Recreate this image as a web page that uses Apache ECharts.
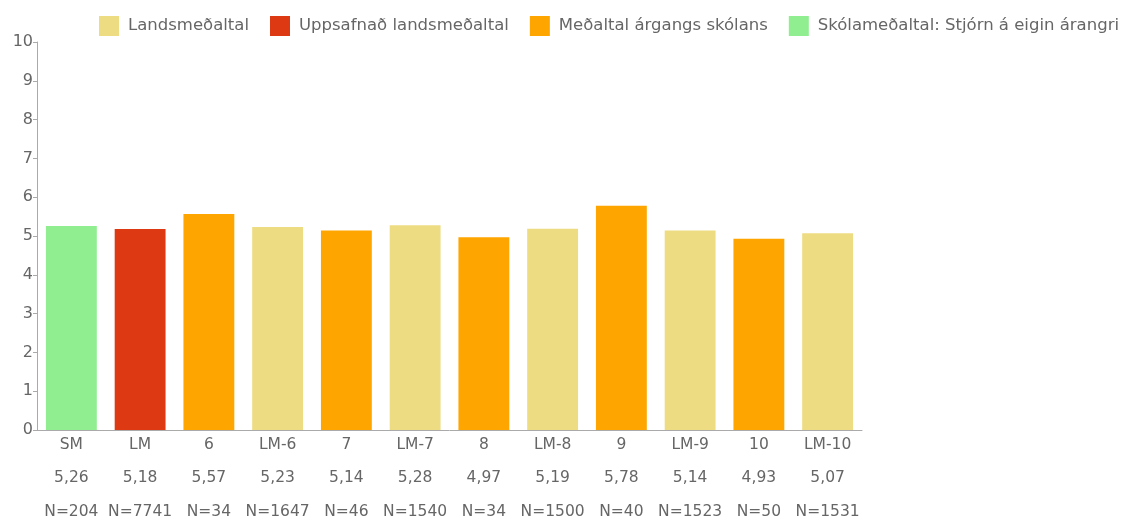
<!DOCTYPE html>
<html>
<head>
<meta charset="utf-8">
<script src="https://cdn.jsdelivr.net/npm/echarts@6/dist/echarts.min.js"></script>
<style>html,body{margin:0;padding:0;background:#fff}#c{width:1126px;height:523px}</style>
</head>
<body>
<div id="c"></div>
<script>
const categories = ['SM','LM','6','LM-6','7','LM-7','8','LM-8','9','LM-9','10','LM-10'];
const values = [5.26,5.18,5.57,5.23,5.14,5.28,4.97,5.19,5.78,5.14,4.93,5.07];
const counts = [204,7741,34,1647,46,1540,34,1500,40,1523,50,1531];
// group index per category: 0 Landsmeðaltal, 1 Uppsafnað, 2 Meðaltal árgangs, 3 Skólameðaltal
const groups = [3,1,2,0,2,0,2,0,2,0,2,0];
const seriesNames = ['Landsmeðaltal','Uppsafnað landsmeðaltal','Meðaltal árgangs skólans','Skólameðaltal: Stjórn á eigin árangri'];
const seriesColors = ['#EEDC82','#DD3A13','#FFA500','#90EE90'];
const yTicks = [0,1,2,3,4,5,6,7,8,9,10];

const fmt = v => v.toFixed(2).replace('.', ',');
const chart = echarts.init(document.getElementById('c'));
const series = seriesNames.map((name, gi) => ({
  name,
  type: 'bar',
  stack: 'all',
  barWidth: '74%',
  itemStyle: {color: seriesColors[gi]},
  data: values.map((v, i) => groups[i] === gi ? v : '-')
}));
chart.setOption({
  animation: false,
  textStyle: {fontFamily: 'DejaVu Sans, sans-serif'},
  legend: {
    top: 11, right: 2,
    itemWidth: 20, itemHeight: 20, itemGap: 21,
    icon: 'rect',
    textStyle: {fontSize: 16.5, color: '#666', fontFamily: 'DejaVu Sans', padding: [0, 0, 0, 4]},
    data: seriesNames
  },
  grid: {left: 37, right: 264, top: 42, bottom: 93, outerBoundsMode: 'none'},
  xAxis: {
    type: 'category',
    data: categories,
    axisLine: {lineStyle: {color: '#aaa'}},
    axisTick: {alignWithLabel: true, length: 5, lineStyle: {color: '#aaa'}},
    axisLabel: {
      interval: 0, margin: -2, fontSize: 15.5, color: '#666', lineHeight: 33.5,
      fontFamily: 'DejaVu Sans',
      formatter: (c, i) => c + '\n' + fmt(values[i]) + '\nN=' + counts[i]
    }
  },
  yAxis: {
    type: 'value', min: yTicks[0], max: yTicks[yTicks.length - 1], interval: 1,
    splitLine: {show: false},
    axisLine: {show: true, lineStyle: {color: '#aaa'}},
    axisTick: {show: true, length: 4, lineStyle: {color: '#aaa'}},
    axisLabel: {fontSize: 16, color: '#666', margin: 4, fontFamily: 'DejaVu Sans'}
  },
  series
});
</script>
</body>
</html>
